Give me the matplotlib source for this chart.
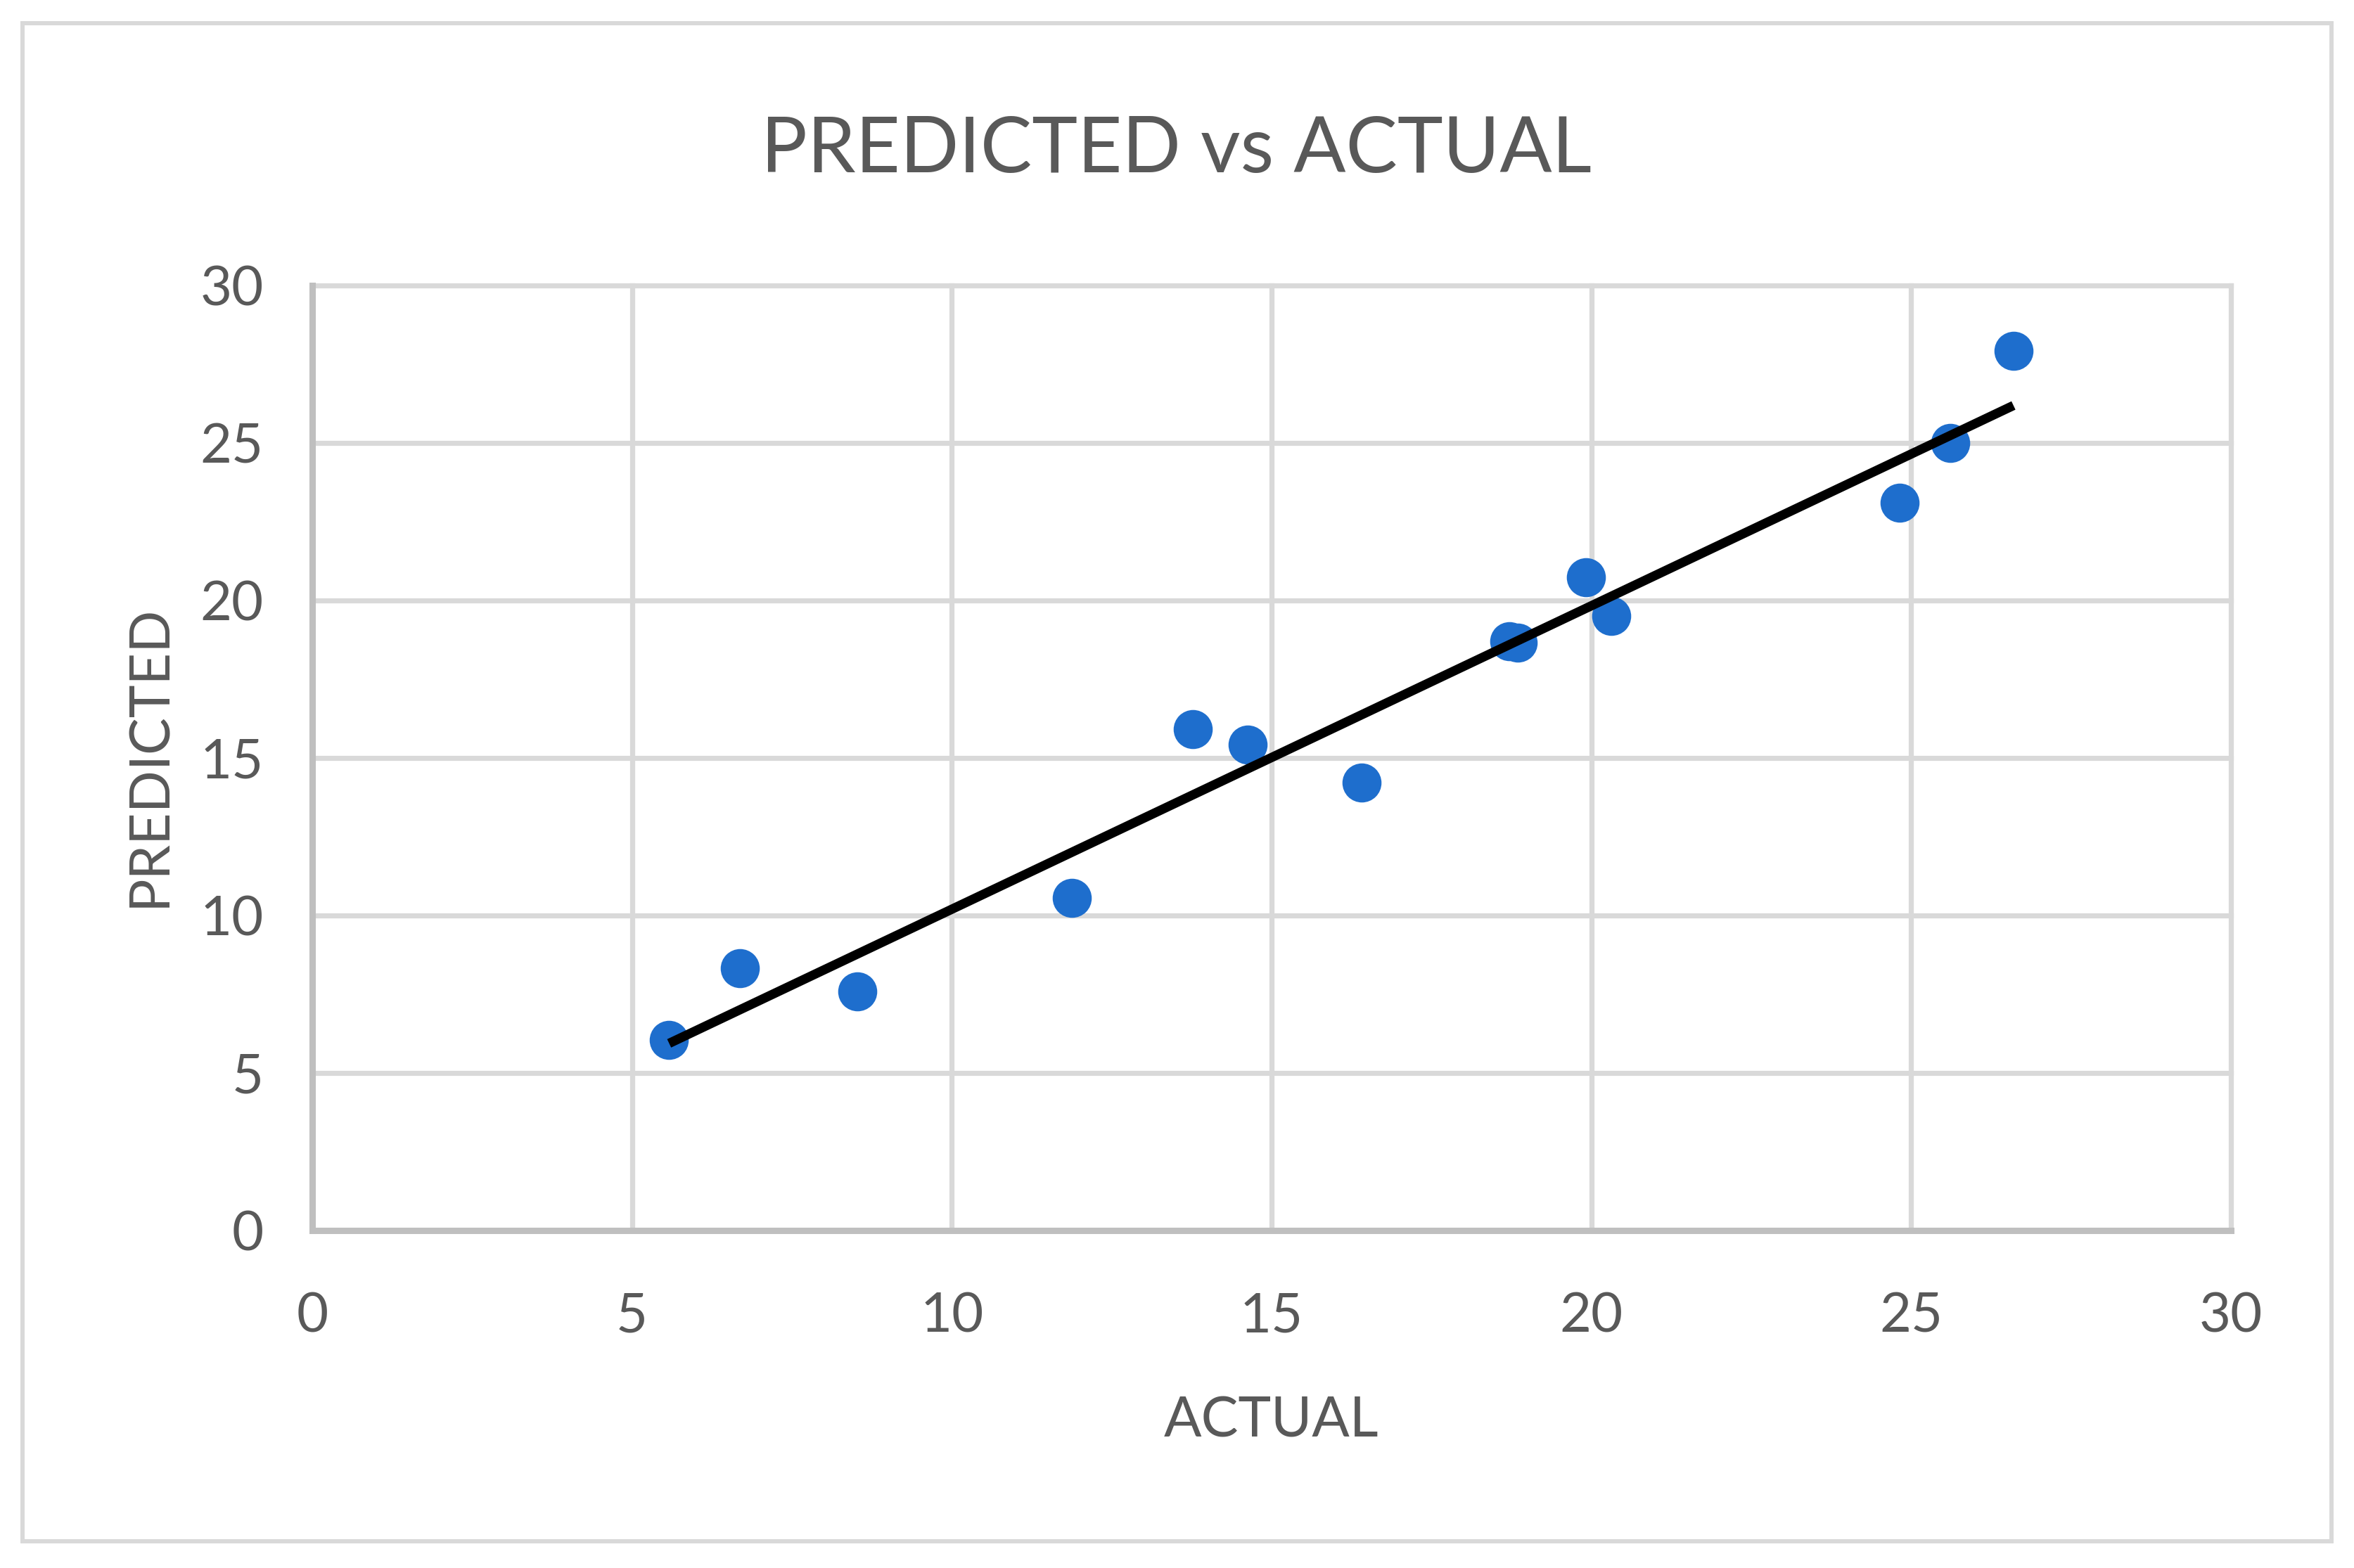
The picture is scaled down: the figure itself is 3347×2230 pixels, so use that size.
import numpy as np
import matplotlib
matplotlib.use("Agg")
import matplotlib.pyplot as plt
from matplotlib.patches import Rectangle

# ---- data ----
actual = [5.58, 6.69, 8.52, 11.88, 13.77, 14.63, 16.41, 18.72, 18.85, 19.92, 20.31, 24.82, 25.61, 26.60]
predicted = [6.06, 8.33, 7.58, 10.56, 15.91, 15.43, 14.21, 18.70, 18.65, 20.74, 19.52, 23.10, 25.00, 27.92]
x_ticks = [0, 5, 10, 15, 20, 25, 30]
y_ticks = [0, 5, 10, 15, 20, 25, 30]
title = "PREDICTED vs ACTUAL"
x_label = "ACTUAL"
y_label = "PREDICTED"

plt.rcParams['font.family'] = ['Lato', 'DejaVu Sans']
TXT = '#595959'
GRID = '#d9d9d9'
AXC = '#bfbfbf'
BLUE = '#1E6ECD'

W, H = 3347, 2230
fig = plt.figure(figsize=(W / 100, H / 100), dpi=100)
fig.patch.set_facecolor('white')

# outer chart border
fig.patches.append(Rectangle((32 / W, 1 - 2192 / H), (3315 - 32) / W, (2192 - 33) / H,
                             transform=fig.transFigure, fill=False,
                             edgecolor=GRID, linewidth=4.3))

ax = fig.add_axes([444 / W, 1 - 1750 / H, (3172 - 444) / W, (1750 - 406) / H])
ax.set_xlim(x_ticks[0], x_ticks[-1])
ax.set_ylim(y_ticks[0], y_ticks[-1])

for s in ['top', 'right']:
    ax.spines[s].set_visible(False)
for s in ['left', 'bottom']:
    ax.spines[s].set_color(AXC)
    ax.spines[s].set_linewidth(6.5)
    ax.spines[s].set_zorder(1)

for v in x_ticks[1:]:
    ax.axvline(v, color=GRID, linewidth=5.2, zorder=0, clip_on=False)
for v in y_ticks[1:]:
    ax.axhline(v, color=GRID, linewidth=5.2, zorder=0, clip_on=False)

ax.set_xticks(x_ticks)
ax.set_yticks(y_ticks)
ax.set_xticklabels([str(t) for t in x_ticks])
ax.set_yticklabels([str(t) for t in y_ticks])
ax.tick_params(axis='both', length=0, labelsize=56, labelcolor=TXT)
ax.tick_params(axis='x', pad=63)
ax.tick_params(axis='y', pad=50)

ax.plot(actual, predicted, linestyle='none', marker='o', markersize=40,
        markerfacecolor=BLUE, markeredgecolor=BLUE, markeredgewidth=0, zorder=3)

# linear trendline (least squares), spanning data range
coef = np.polyfit(actual, predicted, 1)
xs = np.array([min(actual), max(actual)])
ax.plot(xs, np.polyval(coef, xs), color='black', linewidth=9.5,
        solid_capstyle='butt', zorder=4)

fig.text(1673 / W, 1 - 245 / H, title, ha='center', va='baseline',
         fontsize=79, color=TXT)
fig.text(1808 / W, 1 - 2043 / H, x_label, ha='center', va='baseline',
         fontsize=57, color=TXT)
fig.text(235 / W, 1 - 1075 / H, y_label, ha='center', va='baseline',
         rotation=90, rotation_mode='anchor', fontsize=57, color=TXT)

fig.savefig('out.png', dpi=100, facecolor='white')
